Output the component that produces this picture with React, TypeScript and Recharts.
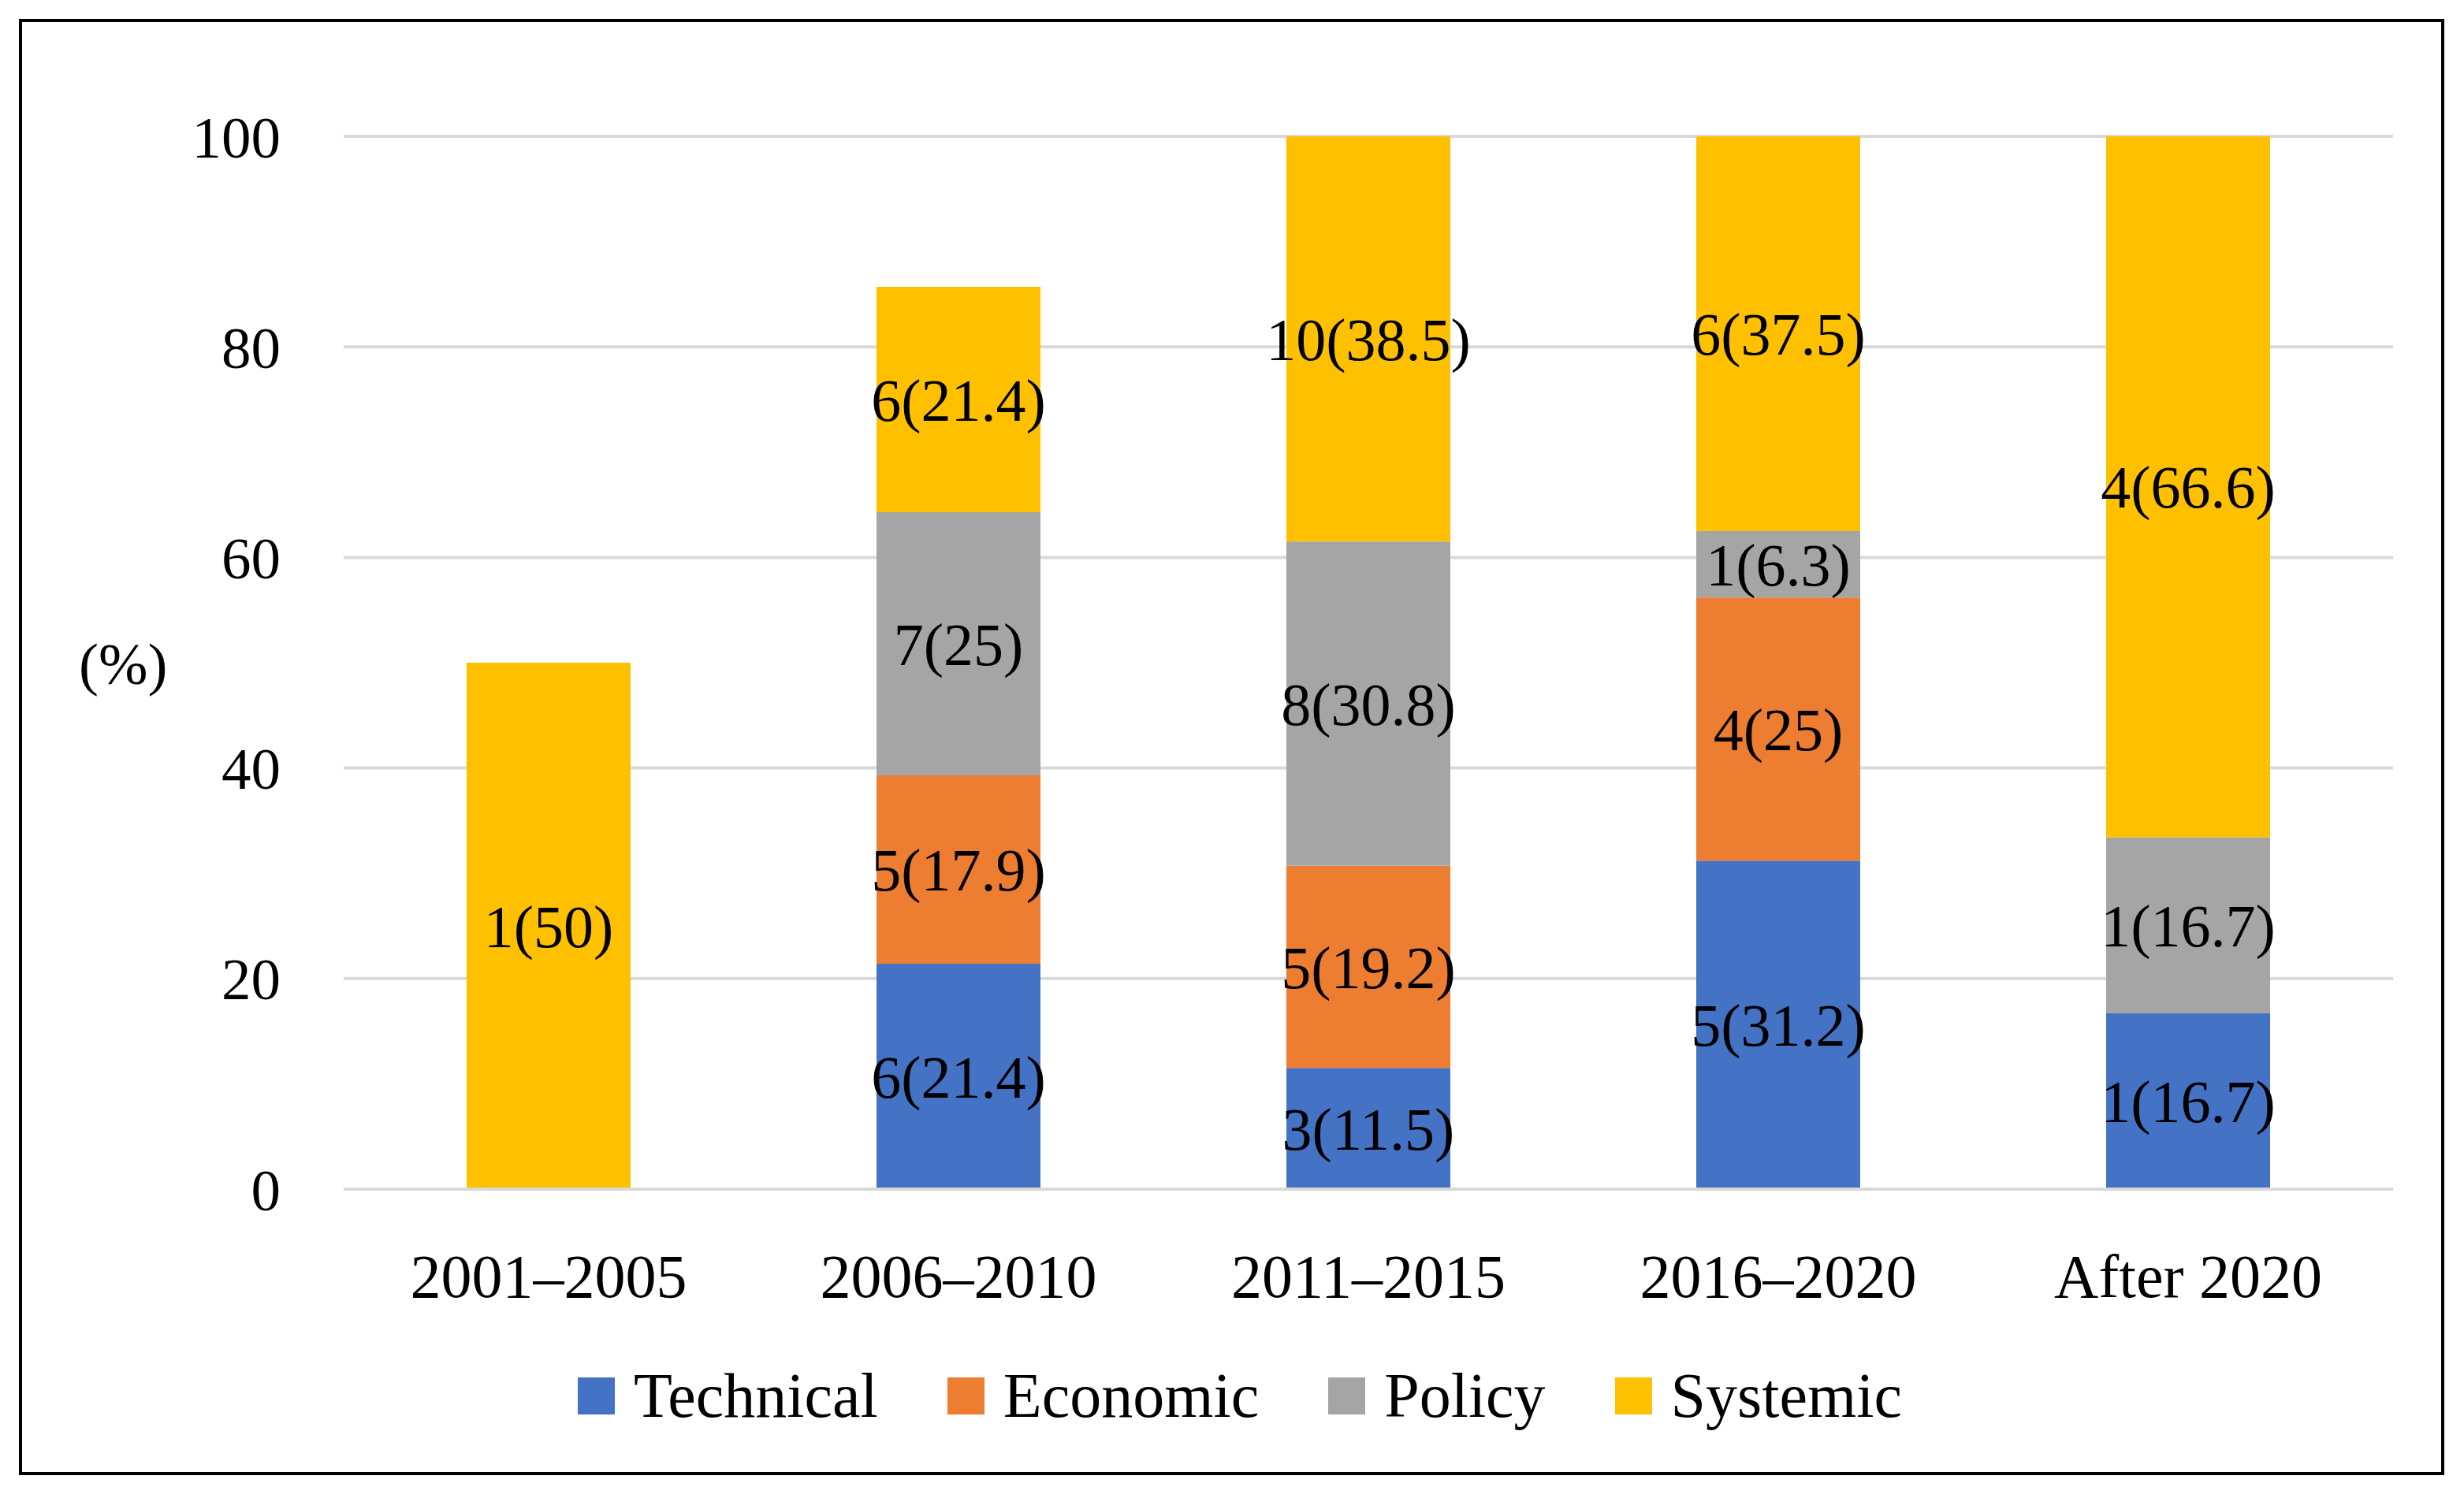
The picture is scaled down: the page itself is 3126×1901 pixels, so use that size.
import { BarChart, Bar, XAxis, YAxis, CartesianGrid, Legend, LabelList } from 'recharts'

const periods = ['2001–2005', '2006–2010', '2011–2015', '2016–2020', 'After 2020']

// share of papers (%) per period
const technicalPct = [0, 21.4, 11.5, 31.2, 16.7]
const economicPct = [0, 17.9, 19.2, 25, 0]
const policyPct = [0, 25, 30.8, 6.3, 16.7]
const systemicPct = [50, 21.4, 38.5, 37.5, 66.6]

// number of papers per period
const technicalCount = [0, 6, 3, 5, 1]
const economicCount = [0, 5, 5, 4, 0]
const policyCount = [0, 7, 8, 1, 1]
const systemicCount = [1, 6, 10, 6, 4]

const yTicks = [0, 20, 40, 60, 80, 100]

const FONT = '"Liberation Serif", "Times New Roman", serif'

const SERIES = [
  { key: 'technical', name: 'Technical', color: '#4472C4', pct: technicalPct, count: technicalCount },
  { key: 'economic', name: 'Economic', color: '#ED7D31', pct: economicPct, count: economicCount },
  { key: 'policy', name: 'Policy', color: '#A5A5A5', pct: policyPct, count: policyCount },
  { key: 'systemic', name: 'Systemic', color: '#FFC000', pct: systemicPct, count: systemicCount },
]

// "count(pct)" text per segment, blank where the segment is empty
const data = periods.map((p, i) => {
  const row: Record<string, string | number> = { period: p }
  SERIES.forEach((s) => {
    row[s.key] = s.pct[i]
    row[s.key + 'Label'] = s.pct[i] ? `${s.count[i]}(${s.pct[i]})` : ''
  })
  return row
})

const renderLabel = (props: any) => {
  const vb = props.viewBox ?? props
  if (!props.value) return null
  const cx = vb.x + vb.width / 2
  const cy = vb.y + vb.height / 2
  return (
    <text x={cx} y={cy} dy="0.35em" textAnchor="middle" fontSize={76} fontFamily={FONT} fill="#000">
      {props.value}
    </text>
  )
}

function LegendRow() {
  return (
    <div
      style={{
        display: 'flex',
        justifyContent: 'center',
        alignItems: 'center',
        gap: 88,
        fontFamily: FONT,
        fontSize: 80,
        color: '#000',
        paddingLeft: 20,
      }}
    >
      {SERIES.map((s) => (
        <div key={s.key} style={{ display: 'flex', alignItems: 'center', gap: 24 }}>
          <span style={{ width: 47, height: 47, background: s.color, display: 'inline-block' }} />
          <span style={{ lineHeight: 1 }}>{s.name}</span>
        </div>
      ))}
    </div>
  )
}

export default function App() {
  return (
    <div
      style={{
        position: 'absolute',
        left: 0,
        top: 0,
        width: 3126,
        height: 1901,
        background: '#fff',
        overflow: 'hidden',
        fontFamily: FONT,
      }}
    >
      <BarChart
        width={3126}
        height={1901}
        data={data}
        margin={{ top: 173, right: 90, left: 90, bottom: 292 }}
        barCategoryGap="30%"
      >
        <CartesianGrid vertical={false} stroke="#D9D9D9" strokeWidth={4} />
        <XAxis
          dataKey="period"
          height={100}
          tickSize={0}
          tickMargin={82}
          axisLine={{ stroke: '#D9D9D9', strokeWidth: 4 }}
          tickLine={false}
          tick={{ fill: '#000', fontSize: 78, fontFamily: FONT }}
        />
        <YAxis
          width={346}
          domain={[0, 100]}
          ticks={yTicks}
          tickSize={0}
          tickMargin={80}
          axisLine={false}
          tickLine={false}
          tick={{ fill: '#000', fontSize: 75, fontFamily: FONT }}
          label={{ value: '(%)', position: 'insideLeft', offset: 10, fontSize: 75, fill: '#000', fontFamily: FONT }}
        />
        <Legend
          verticalAlign="middle"
          align="center"
          content={() => <LegendRow />}
          wrapperStyle={{ top: 1731, left: 0, width: 3126 }}
        />
        {SERIES.map((s) => (
          <Bar key={s.key} dataKey={s.key} name={s.name} stackId="a" fill={s.color} isAnimationActive={false}>
            <LabelList dataKey={s.key + 'Label'} content={renderLabel} />
          </Bar>
        ))}
      </BarChart>
      <div
        style={{
          position: 'absolute',
          left: 24,
          top: 24,
          width: 3077,
          height: 1848,
          border: '4px solid #000',
          boxSizing: 'border-box',
          pointerEvents: 'none',
        }}
      />
    </div>
  )
}
